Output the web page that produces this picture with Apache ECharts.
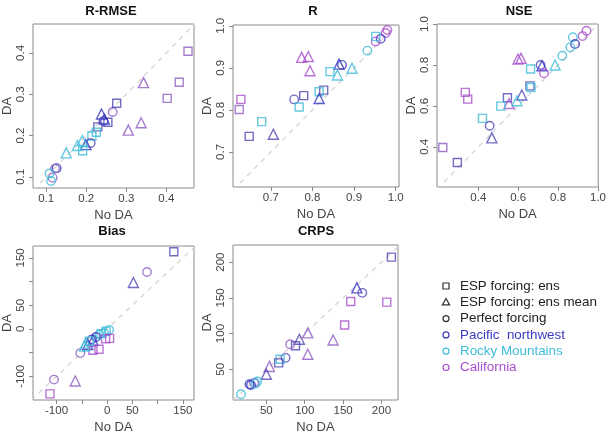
<!DOCTYPE html>
<html><head><meta charset="utf-8">
<script src="https://cdn.jsdelivr.net/npm/echarts@6/dist/echarts.min.js"></script>
<style>html,body{margin:0;padding:0;background:#fff}#c{width:609px;height:435px}</style>
</head><body><div id="c"></div>
<script>
// ---------- DATA ----------
// shape codes: s = ESP forcing: ens (square), t = ESP forcing: ens mean (triangle), c = Perfect forcing (circle)
// region codes: P/Q = Pacific northwest, R = Rocky Mountains, C/D = California
const rrmseNoDA = [0.454,0.432,0.402,0.343,0.337,0.305,0.266,0.276,0.254,0.238,0.245,0.243,0.229,0.225,0.214,0.211,0.199,0.191,0.178,0.190,0.150,0.126,0.122,0.116,0.108,0.112];
const rrmseDA   = [0.404,0.329,0.290,0.328,0.231,0.213,0.257,0.278,0.232,0.252,0.240,0.235,0.221,0.208,0.199,0.182,0.178,0.163,0.176,0.188,0.158,0.121,0.120,0.098,0.108,0.090];
const rrmseShape  = ['s','s','s','t','t','t','c','s','s','t','t','c','s','s','s','c','t','s','t','t','t','c','c','c','c','c'];
const rrmseRegion = ['D','D','D','D','D','D','D','Q','Q','P','P','P','Q','R','R','Q','P','R','R','R','R','P','D','D','R','R'];

const rNoDA = [0.980,0.976,0.964,0.952,0.952,0.932,0.895,0.864,0.871,0.842,0.860,0.774,0.790,0.794,0.827,0.816,0.816,0.779,0.756,0.768,0.678,0.706,0.648,0.628,0.624];
const rDA   = [0.990,0.983,0.969,0.963,0.975,0.941,0.899,0.909,0.907,0.891,0.883,0.925,0.927,0.893,0.847,0.843,0.827,0.834,0.825,0.807,0.772,0.742,0.737,0.825,0.801];
const rShape  = ['c','c','c','c','s','c','t','t','c','s','t','t','t','t','s','s','t','s','c','s','s','t','s','s','s'];
const rRegion = ['C','C','P','C','R','R','R','P','P','R','R','C','C','C','Q','R','P','Q','Q','R','R','Q','Q','C','D'];

const nseNoDA = [0.942,0.923,0.874,0.885,0.861,0.821,0.785,0.712,0.719,0.729,0.662,0.599,0.614,0.659,0.664,0.618,0.546,0.554,0.594,0.513,0.421,0.457,0.468,0.335,0.347,0.222,0.295];
const nseDA   = [0.967,0.941,0.935,0.902,0.886,0.845,0.800,0.800,0.796,0.759,0.780,0.829,0.832,0.698,0.690,0.653,0.640,0.612,0.625,0.599,0.539,0.503,0.444,0.666,0.633,0.397,0.324];
const nseShape  = ['c','c','c','c','c','c','t','c','t','c','s','t','t','s','s','t','s','t','t','s','s','c','t','s','s','s','s'];
const nseRegion = ['C','C','R','P','R','R','R','Q','P','C','R','C','C','Q','R','Q','Q','C','R','R','R','Q','Q','C','C','D','Q'];

const biasNoDA = [132,79,52,4,-2,-6,-12,5,-3,-15,-22,-28,-30,-38,-42,-16,-28,-53,-63,-105,-113,-35,-45];
const biasDA   = [163,120,98,-2,-5,-8,-10,-20,-21,-12,-17,-24,-22,-33,-30,-43,-45,-51,-110,-107,-137,-26,-36];
const biasShape  = ['s','c','t','c','s','c','s','s','s','c','c','t','c','t','t','s','s','c','t','c','s','s','t'];
const biasRegion = ['Q','D','Q','R','R','R','R','C','C','R','P','P','P','P','R','C','C','D','D','D','C','R','R'];

const crpsNoDA = [213,168,175,160,207,152,137,104,104,93,88,81,75,68,66,54,50,38,34,28,30,17,36];
const crpsDA   = [207,164,157,145,144,112,91,101,71,92,83,85,66,64,59,54,43,33,31,29,28,15,30];
const crpsShape  = ['s','t','c','s','s','s','t','t','t','t','s','c','c','s','s','t','t','c','c','c','c','c','c'];
const crpsRegion = ['Q','P','Q','C','C','C','D','D','D','Q','Q','D','Q','R','Q','D','Q','R','D','P','P','R','R'];

// tick labels
const titles = ['R-RMSE','R','NSE','Bias','CRPS'];
const rrmseTicks = [0.1,0.2,0.3,0.4];
const rTicks = [0.7,0.8,0.9,1.0];
const nseTicks = [0.4,0.6,0.8,1.0];
const biasTicks = [-100,-50,0,50,100,150];
const biasLabels = [-100,0,50,150];
const crpsTicks = [50,100,150,200];
const legendLabels = ['ESP forcing: ens','ESP forcing: ens mean','Perfect forcing','Pacific  northwest','Rocky Mountains','California'];

// ---------- STYLE ----------
const regionColor = {P:'#3535bd', Q:'#4f47b3', R:'#3fbcd9', C:'#a84fcc', D:'#8f5dc2'};
const shapeSymbol = {s:'rect', t:'triangle', c:'circle'};
const shapeSize = {s:8, t:10, c:8.5};
const FONT = 'Liberation Sans, Arial, sans-serif';

const panels = [
  {x:rrmseNoDA,y:rrmseDA,s:rrmseShape,r:rrmseRegion,grid:{left:29,top:24,width:165,height:164},xlim:[0.067,0.469],ylim:[0.073,0.470],xt:rrmseTicks,xl:rrmseTicks,yt:rrmseTicks,yl:rrmseTicks,dec:1},
  {x:rNoDA,y:rDA,s:rShape,r:rRegion,grid:{left:233,top:25,width:166,height:162},xlim:[0.609,1.008],ylim:[0.6165,1.002],xt:rTicks,xl:rTicks,yt:rTicks,yl:rTicks,dec:1},
  {x:nseNoDA,y:nseDA,s:nseShape,r:nseRegion,grid:{left:437,top:24,width:166,height:163},xlim:[0.193,1.001],ylim:[0.204,1.0],xt:nseTicks,xl:nseTicks,yt:nseTicks,yl:nseTicks,dec:1},
  {x:biasNoDA,y:biasDA,s:biasShape,r:biasRegion,grid:{left:29,top:246,width:165,height:162},xlim:[-146.6,172],ylim:[-150,175],xt:biasTicks,xl:biasLabels,yt:biasTicks,yl:biasLabels,dec:0},
  {x:crpsNoDA,y:crpsDA,s:crpsShape,r:crpsRegion,grid:{left:233,top:245,width:165,height:163},xlim:[6.5,221.6],ylim:[7,224],xt:crpsTicks,xl:crpsTicks,yt:crpsTicks,yl:crpsTicks,dec:0}
];
const titlePos = [[111,11],[313,11],[519,11],[112,231],[316,231]];

const grid=[], xAxis=[], yAxis=[], series=[];
panels.forEach((p,i)=>{
  grid.push(Object.assign({show:true,borderColor:'#8a8a8a',borderWidth:1,backgroundColor:'transparent'},p.grid));
  const fmt = v => p.dec ? Number(v).toFixed(p.dec) : String(Math.round(v));
  xAxis.push({gridIndex:i,type:'value',min:p.xlim[0],max:p.xlim[1],position:'bottom',
    axisLine:{show:false,onZero:false},splitLine:{show:false},
    axisTick:{show:true,length:4,customValues:p.xt,lineStyle:{color:'#888'}},
    axisLabel:{customValues:p.xl,formatter:fmt,fontSize:11.5,color:'#444',margin:5,fontFamily:FONT},
    name:'No DA',nameLocation:'middle',nameGap:21,nameTextStyle:{fontSize:13,color:'#444',fontFamily:FONT}});
  yAxis.push({gridIndex:i,type:'value',min:p.ylim[0],max:p.ylim[1],position:'left',
    axisLine:{show:false,onZero:false},splitLine:{show:false},
    axisTick:{show:true,length:4,customValues:p.yt,lineStyle:{color:'#888'}},
    axisLabel:{customValues:p.yl,formatter:fmt,rotate:90,fontSize:11.5,color:'#444',margin:6,fontFamily:FONT},
    name:'DA',nameLocation:'middle',nameGap:19,nameRotate:90,nameTextStyle:{fontSize:13,color:'#444',fontFamily:FONT}});
  const lo=Math.min(p.xlim[0],p.ylim[0]), hi=Math.max(p.xlim[1],p.ylim[1]);
  series.push({type:'line',xAxisIndex:i,yAxisIndex:i,data:[[lo,lo],[hi,hi]],showSymbol:false,silent:true,clip:true,
    lineStyle:{color:'#d4d4d4',width:1.3,type:[5,5]},z:1});
  series.push({type:'scatter',xAxisIndex:i,yAxisIndex:i,z:2,clip:false,
    data:p.x.map((xv,k)=>({value:[xv,p.y[k]],symbol:shapeSymbol[p.s[k]],symbolSize:shapeSize[p.s[k]],
      itemStyle:{color:'rgba(0,0,0,0)',borderColor:regionColor[p.r[k]],borderWidth:1.4}}))});
});

const graphic=[];
titles.forEach((t,i)=>{
  graphic.push({type:'text',x:titlePos[i][0],y:titlePos[i][1],
    style:{text:t,font:'bold 13px '+FONT,fill:'#111',align:'center',verticalAlign:'middle',textAlign:'center',textVerticalAlign:'middle'}});
});
// legend
const legColors=['#222','#222','#222','#3b3bc0','#3fbcd9','#a84fcc'];
const ly0=286, ldy=16.3, lmx=446, ltx=460;
legendLabels.forEach((t,i)=>{
  const y=ly0+i*ldy;
  graphic.push({type:'text',x:ltx,y:y,style:{text:t,font:'13.4px '+FONT,fill:legColors[i],align:'left',verticalAlign:'middle',textAlign:'left',textVerticalAlign:'middle'}});
  const stroke = i<3 ? '#333' : legColors[i];
  if(i===0) graphic.push({type:'rect',shape:{x:lmx-3,y:y-3,width:6,height:6},style:{fill:'none',stroke:stroke,lineWidth:1.2}});
  else if(i===1) graphic.push({type:'polygon',shape:{points:[[lmx,y-3.8],[lmx-3.6,y+2.6],[lmx+3.6,y+2.6]]},style:{fill:'none',stroke:stroke,lineWidth:1.2}});
  else graphic.push({type:'circle',shape:{cx:lmx,cy:y,r:3},style:{fill:'none',stroke:stroke,lineWidth:1.2}});
});

const chart = echarts.init(document.getElementById('c'),null,{renderer:'canvas'});
chart.setOption({animation:false,backgroundColor:'#fff',grid,xAxis,yAxis,series,graphic});
</script></body></html>
